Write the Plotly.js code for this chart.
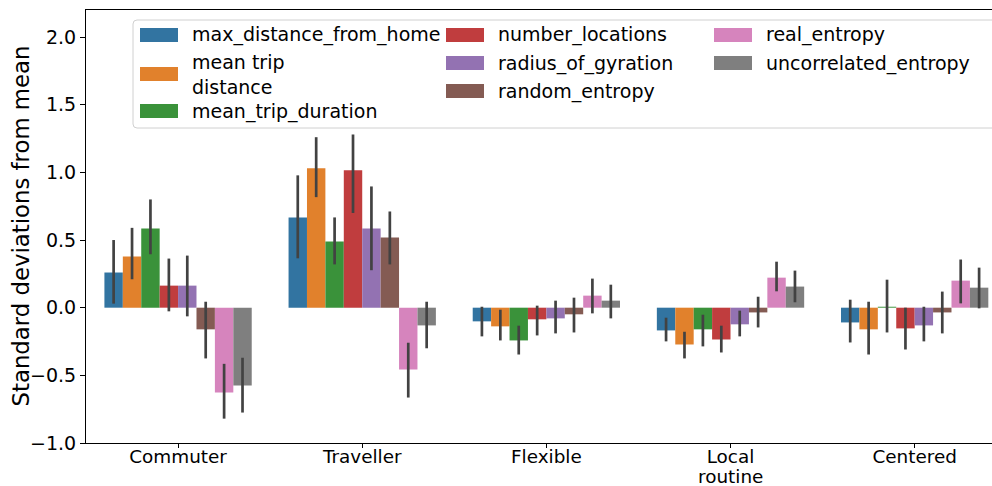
<!DOCTYPE html>
<html>
<head>
<meta charset="utf-8">
<script src="https://cdn.plot.ly/plotly-3.0.1.min.js"></script>
<style>
  html, body { margin: 0; padding: 0; background: #ffffff; }
  #chart { width: 992px; height: 486px; }
</style>
</head>
<body>
<div id="chart"></div>
<script>
// ---- data ----
const categories = ['Commuter', 'Traveller', 'Flexible', 'Local routine', 'Centered'];
const tickLabels = ['Commuter', 'Traveller', 'Flexible', 'Local', 'Centered'];
const tickLabelSecondLine = ['', '', '', 'routine', ''];
const yAxisTitle = 'Standard deviations from mean';

const seriesNames = [
  'max_distance_from_home', 'mean trip<br>distance', 'mean_trip_duration',
  'number_locations', 'radius_of_gyration', 'random_entropy',
  'real_entropy', 'uncorrelated_entropy'
];

const seriesColors = ['#3274a1', '#e1812c', '#3a923a', '#c03d3e', '#9372b2', '#845b53', '#d684bd', '#7f7f7f'];

// means and CI bounds per category (Commuter, Traveller, Flexible, Local routine, Centered)
const maxDistanceMean   = [0.26, 0.667, -0.101, -0.168, -0.109];
const maxDistanceLow    = [0.03, 0.365, -0.212, -0.249, -0.257];
const maxDistanceHigh   = [0.50, 0.978, 0.007, -0.074, 0.059];

const tripDistanceMean  = [0.378, 1.03, -0.138, -0.272, -0.16];
const tripDistanceLow   = [0.21, 0.817, -0.242, -0.375, -0.346];
const tripDistanceHigh  = [0.59, 1.26, -0.015, -0.178, 0.044];

const tripDurationMean  = [0.585, 0.489, -0.242, -0.16, 0.007];
const tripDurationLow   = [0.395, 0.32, -0.346, -0.286, -0.183];
const tripDurationHigh  = [0.80, 0.667, -0.133, -0.052, 0.207];

const numLocationsMean  = [0.163, 1.015, -0.086, -0.235, -0.153];
const numLocationsLow   = [-0.027, 0.70, -0.205, -0.331, -0.309];
const numLocationsHigh  = [0.363, 1.28, 0.015, -0.133, 0.0];

const radiusMean        = [0.163, 0.585, -0.079, -0.123, -0.131];
const radiusLow         = [-0.064, 0.277, -0.19, -0.212, -0.249];
const radiusHigh        = [0.385, 0.896, 0.052, -0.022, 0.007];

const randomEntropyMean = [-0.16, 0.519, -0.049, -0.035, -0.035];
const randomEntropyLow  = [-0.375, 0.32, -0.183, -0.146, -0.19];
const randomEntropyHigh = [0.044, 0.711, 0.074, 0.081, 0.119];

const realEntropyMean   = [-0.627, -0.457, 0.089, 0.222, 0.2];
const realEntropyLow    = [-0.82, -0.664, -0.042, 0.121, 0.032];
const realEntropyHigh   = [-0.415, -0.259, 0.215, 0.34, 0.356];

const uncorrEntropyMean = [-0.575, -0.131, 0.052, 0.156, 0.148];
const uncorrEntropyLow  = [-0.775, -0.30, -0.079, 0.04, -0.005];
const uncorrEntropyHigh = [-0.37, 0.044, 0.17, 0.274, 0.296];

const yTickVals = [-1.0, -0.5, 0.0, 0.5, 1.0, 1.5, 2.0];

// ---- build ----
const means = [maxDistanceMean, tripDistanceMean, tripDurationMean, numLocationsMean, radiusMean, randomEntropyMean, realEntropyMean, uncorrEntropyMean];
const lows  = [maxDistanceLow, tripDistanceLow, tripDurationLow, numLocationsLow, radiusLow, randomEntropyLow, realEntropyLow, uncorrEntropyLow];
const highs = [maxDistanceHigh, tripDistanceHigh, tripDurationHigh, numLocationsHigh, radiusHigh, randomEntropyHigh, realEntropyHigh, uncorrEntropyHigh];

const FONT = 'DejaVu Sans, sans-serif';
const FS = 19;
const XFS = 18.4;
const W = 992, H = 486;
const M = {l: 86, r: 0, t: 10, b: 43};
const plotW = W - M.l - M.r, plotH = H - M.t - M.b;
const px = x => (x - M.l) / plotW;
const py = y => (H - M.b - y) / plotH;

const traces = seriesNames.map((name, i) => ({
  type: 'bar',
  name: name,
  x: categories,
  y: means[i],
  marker: {color: seriesColors[i], line: {width: 0}},
  error_y: {
    type: 'data',
    symmetric: false,
    array: highs[i].map((h, k) => h - means[i][k]),
    arrayminus: means[i].map((m, k) => m - lows[i][k]),
    width: 0,
    thickness: 2.7,
    color: '#424242'
  },
  showlegend: false,
  hoverinfo: 'skip'
}));

// ---- custom legend (matplotlib style, 3 columns) ----
const shapes = [];
const annotations = [];
(function () {
  const x0 = 133, x1 = 1010, y0 = 20, y1 = 128, r = 4;
  const X = v => px(v), Y = v => py(v);
  const path = `M ${X(x0 + r)},${Y(y0)} L ${X(x1 - r)},${Y(y0)} Q ${X(x1)},${Y(y0)} ${X(x1)},${Y(y0 + r)} ` +
    `L ${X(x1)},${Y(y1 - r)} Q ${X(x1)},${Y(y1)} ${X(x1 - r)},${Y(y1)} L ${X(x0 + r)},${Y(y1)} ` +
    `Q ${X(x0)},${Y(y1)} ${X(x0)},${Y(y1 - r)} L ${X(x0)},${Y(y0 + r)} Q ${X(x0)},${Y(y0)} ${X(x0 + r)},${Y(y0)} Z`;
  shapes.push({type: 'path', xref: 'paper', yref: 'paper', path: path,
    line: {color: '#d0d0d0', width: 1}, fillcolor: 'rgba(255,255,255,0.8)', layer: 'above'});
})();

const colX = [140, 446, 714];
const entryPos = [
  [0, 35], [0, 74], [0, 111],
  [1, 35], [1, 63], [1, 91],
  [2, 35], [2, 63]
];
seriesNames.forEach((name, i) => {
  const [c, yc] = entryPos[i];
  const sx = colX[c];
  shapes.push({type: 'rect', xref: 'paper', yref: 'paper',
    x0: px(sx), x1: px(sx + 38), y0: py(yc - 7), y1: py(yc + 7),
    fillcolor: seriesColors[i], line: {width: 0}, layer: 'above'});
  annotations.push({xref: 'paper', yref: 'paper', x: px(sx + 50), y: py(yc),
    xanchor: 'left', yanchor: 'middle', align: 'left', showarrow: false,
    text: name, font: {family: FONT, size: FS, color: '#000000'}});
});

// second line of multi-line category labels
tickLabelSecondLine.forEach((t, k) => {
  if (!t) return;
  annotations.push({xref: 'x', yref: 'paper', x: categories[k], y: py(476.5),
    xanchor: 'center', yanchor: 'middle', showarrow: false, borderpad: 0,
    text: t, font: {family: FONT, size: XFS, color: '#000000'}});
});

// y axis title (placed like matplotlib's)
annotations.push({xref: 'paper', yref: 'paper', x: px(20), y: 0.5,
  xanchor: 'center', yanchor: 'middle', textangle: -90, showarrow: false,
  text: yAxisTitle, font: {family: FONT, size: 22.8, color: '#000000'}});

const layout = {
  width: W, height: H,
  margin: M,
  paper_bgcolor: '#ffffff',
  plot_bgcolor: '#ffffff',
  barmode: 'group',
  bargap: 0.2,
  bargroupgap: 0,
  showlegend: false,
  font: {family: FONT, size: FS, color: '#000000'},
  xaxis: {
    type: 'category',
    range: [-0.5, 4.42],
    tickvals: categories,
    ticktext: tickLabels,
    showline: true, mirror: true, linecolor: '#000000', linewidth: 1,
    ticks: 'outside', ticklen: 4, tickwidth: 1, tickcolor: '#000000',
    ticklabelstandoff: -7,
    showgrid: false, zeroline: false,
    tickfont: {family: FONT, size: XFS, color: '#000000'}
  },
  yaxis: {
    range: [-1.0, 2.2],
    tickvals: yTickVals,
    tickformat: '.1f',
    showline: true, linecolor: '#000000', linewidth: 1,
    ticks: 'outside', ticklen: 5, tickwidth: 1, tickcolor: '#000000',
    showgrid: false, zeroline: false,
    tickfont: {family: FONT, size: FS, color: '#000000'}
  },
  shapes: shapes,
  annotations: annotations
};

Plotly.newPlot('chart', traces, layout, {displayModeBar: false, staticPlot: true});
</script>
</body>
</html>
